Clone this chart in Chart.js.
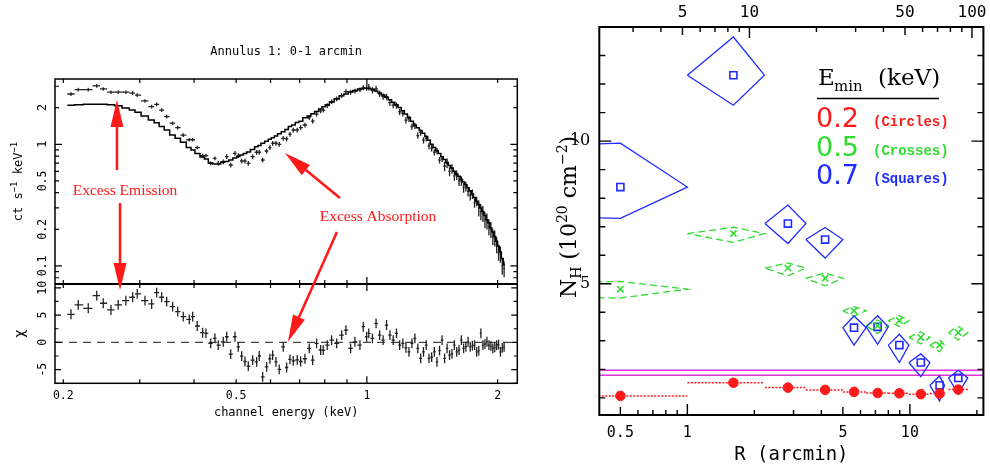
<!DOCTYPE html>
<html>
<head>
<meta charset="utf-8">
<script src="https://cdn.jsdelivr.net/npm/chart.js@4.4.1/dist/chart.umd.min.js"></script>
<style>
  html, body { margin: 0; padding: 0; background: #fff; }
  body { width: 990px; height: 466px; position: relative; overflow: hidden; }
  #specBox { position: absolute; left: 0; top: 0; width: 540px; height: 466px; }
  #nhBox { position: absolute; left: 540px; top: 0; width: 450px; height: 466px; }
</style>
</head>
<body>
<div id="specBox"><canvas id="specChart"></canvas></div>
<div id="nhBox"><canvas id="nhChart"></canvas></div>
<script>
// Left: spectrum of annulus 1 -----------------------------------------

// channel energy of each bin (keV)
const specE = [
  0.2083, 0.2165, 0.2283, 0.2388, 0.2472, 0.2575, 0.2676, 0.2787, 0.2889, 0.2960,
  0.3084, 0.3195, 0.3281, 0.3369, 0.3460, 0.3571, 0.3668, 0.3778, 0.3901, 0.3971,
  0.4069, 0.4187, 0.4261,
  0.4369, 0.4469, 0.4548, 0.4670, 0.4756, 0.4858, 0.4970, 0.5057, 0.5149, 0.5240,
  0.5333, 0.5458, 0.5575, 0.5652, 0.5755, 0.5878, 0.5982, 0.6068, 0.6175, 0.6284,
  0.6419, 0.6536, 0.6651, 0.6769, 0.6914, 0.7039, 0.7201, 0.7367, 0.7501, 0.7661,
  0.7826, 0.7935, 0.8105, 0.8297, 0.8520, 0.8749, 0.8950, 0.9175, 0.9387, 0.9639,
  0.9809, 0.9987,
  1.01, 1.03, 1.05, 1.07, 1.09, 1.11, 1.13, 1.15, 1.17, 1.19,
  1.21, 1.23, 1.25, 1.27, 1.29, 1.31, 1.33, 1.35, 1.37, 1.39,
  1.41, 1.43, 1.45, 1.47, 1.49, 1.51, 1.53, 1.55, 1.57, 1.59,
  1.61, 1.63, 1.65, 1.67, 1.69, 1.71, 1.73, 1.75, 1.77, 1.79,
  1.81, 1.83, 1.85, 1.87, 1.89, 1.91, 1.93, 1.95, 1.97, 1.99,
  2.01, 2.03, 2.05, 2.07
];

// observed count rate (ct s-1 keV-1)
const specData = [
  2.59, 2.81, 2.81, 3.02, 2.85, 2.68, 2.68, 2.68, 2.63, 2.54,
  2.27, 2.04, 2.13, 1.91, 1.69, 1.49, 1.37, 1.19, 1.09, 1.09,
  0.938, 0.806, 0.806,
  0.698, 0.767, 0.698, 0.719, 0.791, 0.676, 0.843, 0.806, 0.729, 0.729,
  0.698, 0.791, 0.860, 0.860, 0.743, 0.881, 0.938, 1.02, 1.02, 1.00,
  1.12, 1.11, 1.21, 1.31, 1.31, 1.37, 1.44, 1.66, 1.55, 1.77,
  1.88, 1.91, 2.08, 2.24, 2.36, 2.51, 2.71, 2.68, 2.74, 2.80,
  2.92, 2.89,
  2.95, 2.78, 2.85, 2.60, 2.47, 2.45, 2.20, 2.10, 2.08, 1.85,
  1.80, 1.58, 1.62, 1.40, 1.42, 1.18, 1.25, 1.08, 1.12, 0.97,
  0.93, 0.86, 0.88, 0.74, 0.76, 0.66, 0.70, 0.60, 0.63, 0.55,
  0.56, 0.50, 0.50, 0.44, 0.45, 0.41, 0.38, 0.39, 0.33, 0.34,
  0.30, 0.28, 0.27, 0.24, 0.235, 0.21, 0.20, 0.175, 0.17, 0.15,
  0.13, 0.125, 0.10, 0.095
];

// folded model (ct s-1 keV-1)
const specModel = [
  2.09, 2.11, 2.13, 2.13, 2.13, 2.11, 2.07, 1.99, 1.91, 1.83,
  1.71, 1.58, 1.50, 1.40, 1.31, 1.19, 1.12, 1.04, 0.941, 0.898,
  0.840, 0.786, 0.757,
  0.702, 0.689, 0.689, 0.711, 0.722, 0.743, 0.772, 0.794, 0.817, 0.840,
  0.864, 0.906, 0.956, 0.978, 1.02, 1.06, 1.10, 1.13, 1.17, 1.22,
  1.27, 1.32, 1.40, 1.44, 1.51, 1.55, 1.65, 1.71, 1.78, 1.86,
  1.95, 2.03, 2.11, 2.23, 2.36, 2.50, 2.59, 2.69, 2.77, 2.85,
  2.88, 2.89,
  2.88, 2.83, 2.74, 2.64, 2.54, 2.43, 2.32, 2.22, 2.11, 2.01,
  1.89, 1.77, 1.66, 1.55, 1.44, 1.37, 1.30, 1.23, 1.16, 1.08,
  1.00, 0.94, 0.89, 0.84, 0.79, 0.75, 0.71, 0.67, 0.64, 0.60,
  0.57, 0.545, 0.515, 0.49, 0.465, 0.44, 0.415, 0.39, 0.365, 0.34,
  0.32, 0.30, 0.28, 0.26, 0.24, 0.225, 0.205, 0.19, 0.175, 0.16,
  0.145, 0.13, 0.115, 0.103
];

// residuals (chi)
const specChi = [
  5.15, 6.86, 6.25, 8.57, 7.17, 5.94, 6.86, 7.65, 8.27, 8.88,
  7.65, 7.04, 9.12, 8.27, 7.46, 6.54, 5.63, 4.71, 4.23, 4.71,
  3.0, 1.77, 1.65,
  -0.18, 0.74, -0.5, 0.11, 1.03, -2.15, 1.03, -0.81, -2.52, -3.5,
  -4.36, -3.25, -3.57, -2.5, -6.32, -4.49, -3.0, -2.33, -3.57, -4.96,
  -0.81, -4.6, -3.1, -3.4, -3.2, -3.5, -3.0, -1.1, -3.25, -0.18,
  -1.4, -1.42, -0.5, 0.42, -0.18, 1.34, 2.26, -1.1, 0.11, -0.5,
  2.87, 1.03,
  1.65, 0.74, 3.49, 1.34, 0.42, 3.18, 1.34, 0.42, 1.65, -0.5,
  -0.18, -1.0, -1.73, -0.18, 0.74, -1.1, -2.94, -1.73, -0.5, -2.94,
  -2.7, -1.73, -3.57, -1.5, 0.42, -2.94, -1.1, -2.33, -2.1, -0.5,
  -1.73, -1.4, 0.42, -1.1, -0.8, 0.11, -0.81, -0.6, -0.5, -1.73,
  -1.5, 1.65, -0.5, -0.3, 0.11, -0.5, -0.7, -1.1, -0.9, -0.5,
  -0.4, -1.73, -1.0, -0.81
];

const specTicksX = [0.2, 0.5, 1, 2];
const specMinorX = [0.2, 0.3, 0.4, 0.5, 0.6, 0.7, 0.8, 0.9, 1, 2];
const specTicksY = [0.1, 0.2, 0.5, 1, 2];
const specMinorY = [0.08, 0.09, 0.1, 0.2, 0.3, 0.4, 0.5, 0.6, 0.7, 0.8, 0.9, 1, 2, 3];
const chiTicks = [-5, 0, 5, 10];
const chiMinor = [-7.5, -5, -2.5, 0, 2.5, 5, 7.5, 10];

// annotations in data units: [energy, value, axis]
const noteEmission = [0.2774, 0.413];
const noteAbsorption = [1.061, 0.254];
const arrows = [
  [[0.2658, 0.615, 'y'], [0.2658, 2.31, 'y']],
  [[0.2702, 0.329, 'y'], [0.2702, 9.6, 'y2']],
  [[0.867, 0.362, 'y'], [0.6477, 0.848, 'y']],
  [[0.8533, 0.190, 'y'], [0.658, 0.1, 'y2']]
];

// Right: absorbing column vs radius ------------------------------------

const rMid = [0.5, 1.61, 2.83, 4.16, 5.61, 7.16, 8.97, 11.2, 13.6, 16.5];
const rLo = [0, 1.0, 2.23, 3.41, 5.0, 6.36, 8.0, 9.9, 12.3, 14.9];
const rHi = [1.0, 2.22, 3.41, 5.0, 6.36, 8.0, 9.9, 12.3, 14.3, 18.2];

// Emin = 0.2 keV (circles)
const nh02 = [1.07, 1.53, 1.36, 1.28, 1.21, 1.17, 1.16, 1.13, 1.15, 1.29];
// Emin = 0.5 keV (crosses)
const nh05 = [4.81, 6.76, 5.55, 5.19, 4.05, 3.53, 3.71, 3.12, 2.85, 3.29];
const nh05Lo = [4.50, 6.45, 5.28, 4.93, 3.87, 3.26, 3.50, 2.89, 2.62, 3.03];
const nh05Hi = [5.08, 6.98, 5.73, 5.38, 4.20, 3.73, 3.88, 3.32, 3.03, 3.50];
// Emin = 0.7 keV (squares)
const nh07 = [8.39, 12.31, 7.11, 6.55, 3.46, 3.49, 2.85, 2.24, 1.44, 1.70];
const nh07Lo = [7.29, 11.26, 6.41, 5.90, 2.85, 2.88, 2.24, 1.74, 0.89, 1.15];
const nh07Hi = [9.93, 13.65, 7.76, 6.97, 3.87, 3.88, 3.23, 2.54, 1.77, 1.97];
// Galactic column range
const nhGal = [1.79, 1.97];

const rTicks = [0.5, 1, 5, 10];
const rMinor = [0.5, 0.6, 0.7, 0.8, 0.9, 1, 2, 3, 4, 5, 6, 7, 8, 9, 10, 20];
const kpcTicks = [5, 10, 50, 100];
const kpcMinor = [3, 4, 5, 6, 7, 8, 9, 10, 20, 30, 40, 50, 60, 70, 80, 90, 100];
const nhTicks = [5, 10];
const nhMinor = [1, 2, 3, 4, 5, 6, 7, 8, 9, 10, 11, 12, 13];
const kpcPerArcmin = 5.26;

// axis ranges
const specXMin = 0.1914, specXMax = 2.22;
const specYMin = 0.0711, specYMax = 3.44;
const chiMin = -7.5, chiMax = 10.7;
const rMin = 0.402, rMax = 21.4;
const nhMin = 0.4, nhMax = 14;

const RED = '#ff1a1a', GREEN = '#2edb2e', BLUE = '#1f2bff', MAGENTA = '#e033e0';

Chart.defaults.font.family = 'DejaVu Sans Mono';
Chart.defaults.color = '#000';

// helpers ---------------------------------------------------------------

function binEdges(e) {
  const lo = [], hi = [];
  for (let i = 0; i < e.length; i++) {
    const prev = i > 0 ? e[i - 1] : e[i] * e[i] / e[i + 1];
    const next = i < e.length - 1 ? e[i + 1] : e[i] * e[i] / e[i - 1];
    lo.push(Math.sqrt(prev * e[i]));
    hi.push(Math.sqrt(next * e[i]));
  }
  return { lo, hi };
}

// size of the error arms on the count spectrum
function relErr(e) {
  if (e < 0.45) return 0.035;
  if (e < 1) return 0.045;
  if (e < 1.5) return 0.06;
  if (e < 1.8) return 0.09;
  return 0.15;
}

function crosses(xs, ys, lo, hi, ylo, yhi) {
  const pts = [];
  for (let i = 0; i < xs.length; i++) {
    pts.push({ x: lo[i], y: ys[i] }, { x: hi[i], y: ys[i] }, { x: hi[i], y: null });
    pts.push({ x: xs[i], y: ylo[i] }, { x: xs[i], y: yhi[i] }, { x: xs[i], y: null });
  }
  return pts;
}

function diamonds(xs, lo, hi, ys, ylo, yhi) {
  const pts = [];
  for (let i = 0; i < xs.length; i++) {
    const l = Math.max(lo[i], 1e-6);
    pts.push({ x: l, y: ys[i] }, { x: xs[i], y: yhi[i] }, { x: hi[i], y: ys[i] },
             { x: xs[i], y: ylo[i] }, { x: l, y: ys[i] }, { x: xs[i], y: null });
  }
  return pts;
}

function zeroPad(s) {
  s.paddingLeft = 0; s.paddingRight = 0; s.paddingTop = 0; s.paddingBottom = 0;
}

function drawRich(ctx, parts, x, y, rot) {
  ctx.save();
  ctx.translate(x, y);
  if (rot) ctx.rotate(rot);
  let w = 0;
  parts.forEach(p => { ctx.font = p[1]; w += ctx.measureText(p[0]).width; });
  let cx = -w / 2;
  ctx.textAlign = 'left';
  ctx.textBaseline = 'alphabetic';
  parts.forEach(p => {
    ctx.font = p[1];
    ctx.fillText(p[0], cx, p[2]);
    cx += ctx.measureText(p[0]).width;
  });
  ctx.restore();
}

function arrow(ctx, x0, y0, x1, y1, headLen, headW) {
  const a = Math.atan2(y1 - y0, x1 - x0);
  const bx = x1 - headLen * Math.cos(a), by = y1 - headLen * Math.sin(a);
  ctx.beginPath();
  ctx.moveTo(x0, y0);
  ctx.lineTo(bx, by);
  ctx.stroke();
  ctx.beginPath();
  ctx.moveTo(x1, y1);
  ctx.lineTo(bx + headW / 2 * Math.sin(a), by - headW / 2 * Math.cos(a));
  ctx.lineTo(bx - headW / 2 * Math.sin(a), by + headW / 2 * Math.cos(a));
  ctx.closePath();
  ctx.fill();
}

// left chart --------------------------------------------------------------

const edges = binEdges(specE);
const specCross = crosses(specE, specData, edges.lo, edges.hi,
  specData.map((v, i) => v * (1 - relErr(specE[i]))),
  specData.map((v, i) => v * (1 + relErr(specE[i]))));
const chiCross = crosses(specE, specChi, edges.lo, edges.hi,
  specChi.map(v => v - 0.9), specChi.map(v => v + 0.9));
const modelPts = [{ x: edges.lo[0], y: specModel[0] }]
  .concat(specE.map((e, i) => ({ x: e, y: specModel[i] })))
  .concat([{ x: edges.hi[specE.length - 1], y: specModel[specModel.length - 1] }]);

const specFrame = {
  id: 'specFrame',
  afterDraw(chart) {
    const ctx = chart.ctx;
    const x = chart.scales.x, y = chart.scales.y, y2 = chart.scales.y2;
    const L = x.left, R = x.right, T = y.top, M = y.bottom, B = y2.bottom;
    ctx.save();
    ctx.strokeStyle = '#000';
    ctx.lineWidth = 1.5;
    ctx.strokeRect(L, T, R - L, B - T);
    ctx.lineWidth = 2;
    ctx.beginPath(); ctx.moveTo(L, M); ctx.lineTo(R, M); ctx.stroke();

    ctx.lineWidth = 1.2;
    ctx.beginPath();
    specMinorX.forEach(v => {
      const px = x.getPixelForValue(v);
      const len = v === 1 ? 7 : 4;
      [[T, 1], [M, -1], [M, 1], [B, -1]].forEach(([yy, d]) => {
        ctx.moveTo(px, yy); ctx.lineTo(px, yy + d * len);
      });
    });
    specMinorY.forEach(v => {
      const py = y.getPixelForValue(v);
      if (py < T || py > M) return;
      const len = (v === 0.1 || v === 1) ? 7 : 4;
      ctx.moveTo(L, py); ctx.lineTo(L + len, py);
      ctx.moveTo(R, py); ctx.lineTo(R - len, py);
    });
    chiMinor.forEach(v => {
      const py = y2.getPixelForValue(v);
      const len = v % 5 === 0 ? 6 : 3.5;
      ctx.moveTo(L, py); ctx.lineTo(L + len, py);
      ctx.moveTo(R, py); ctx.lineTo(R - len, py);
    });
    ctx.stroke();

    // axis titles
    ctx.fillStyle = '#000';
    drawRich(ctx, [
      ['ct s', '12px DejaVu Sans Mono', 0],
      ['\u22121', '9px DejaVu Sans Mono', -5],
      [' keV', '12px DejaVu Sans Mono', 0],
      ['\u22121', '9px DejaVu Sans Mono', -5]
    ], 22, (T + M) / 2, -Math.PI / 2);
    drawRich(ctx, [['\u03c7', '14px DejaVu Sans', 0]], 24, (M + B) / 2, -Math.PI / 2);

    // annotations
    ctx.fillStyle = RED;
    ctx.strokeStyle = RED;
    ctx.font = '15.5px Liberation Serif';
    ctx.textAlign = 'center';
    ctx.textBaseline = 'middle';
    ctx.fillText('Excess Emission', x.getPixelForValue(noteEmission[0]), y.getPixelForValue(noteEmission[1]));
    ctx.fillText('Excess Absorption', x.getPixelForValue(noteAbsorption[0]), y.getPixelForValue(noteAbsorption[1]));
    ctx.lineWidth = 2.6;
    arrows.forEach(([a, b]) => {
      arrow(ctx,
        x.getPixelForValue(a[0]), chart.scales[a[2]].getPixelForValue(a[1]),
        x.getPixelForValue(b[0]), chart.scales[b[2]].getPixelForValue(b[1]),
        27, 13);
    });
    ctx.restore();
  }
};

new Chart(document.getElementById('specChart'), {
  type: 'line',
  data: {
    datasets: [
      { data: modelPts, stepped: 'middle', borderColor: '#000', borderWidth: 1.5,
        pointRadius: 0, yAxisID: 'y' },
      { data: specCross, borderColor: '#222', borderWidth: 1.3, pointRadius: 0,
        spanGaps: false, yAxisID: 'y' },
      { data: chiCross, borderColor: '#222', borderWidth: 1.3, pointRadius: 0,
        spanGaps: false, yAxisID: 'y2' },
      { data: [{ x: specXMin, y: 0 }, { x: specXMax, y: 0 }], borderColor: '#444',
        borderDash: [8, 6], borderWidth: 1.4, pointRadius: 0, yAxisID: 'y2' }
    ]
  },
  options: {
    responsive: true,
    maintainAspectRatio: false,
    animation: false,
    events: [],
    layout: { padding: { left: 0, right: 22.7, top: 0, bottom: 46.1 } },
    plugins: {
      legend: { display: false },
      tooltip: { enabled: false },
      title: {
        display: true, text: 'Annulus 1: 0-1 arcmin', fullSize: false, color: '#000',
        font: { family: 'DejaVu Sans Mono', size: 12, weight: 'normal' },
        padding: { top: 45, bottom: 19.6 }
      }
    },
    scales: {
      x: {
        type: 'logarithmic', min: specXMin, max: specXMax,
        grid: { display: false, drawTicks: false }, border: { display: false },
        afterBuildTicks: s => { s.ticks = specTicksX.map(v => ({ value: v })); },
        afterFit: s => { s.height = 36.6; zeroPad(s); },
        ticks: { padding: 6, autoSkip: false, maxRotation: 0, font: { size: 11.5 }, callback: v => String(v) },
        title: { display: true, text: 'channel energy (keV)', font: { size: 12 }, padding: 0 }
      },
      y: {
        type: 'logarithmic', min: specYMin, max: specYMax, position: 'left',
        stack: 'spec', stackWeight: 205, weight: 2,
        grid: { display: false, drawTicks: false }, border: { display: false },
        afterBuildTicks: s => { s.ticks = specTicksY.map(v => ({ value: v })); },
        afterFit: s => { s.width = 55; zeroPad(s); },
        ticks: { minRotation: 90, maxRotation: 90, crossAlign: 'center', padding: 2,
                 autoSkip: false, font: { size: 11.5 }, callback: v => String(v) }
      },
      y2: {
        type: 'linear', min: chiMin, max: chiMax, position: 'left',
        stack: 'spec', stackWeight: 99.3, weight: 1,
        grid: { display: false, drawTicks: false }, border: { display: false },
        afterBuildTicks: s => { s.ticks = chiTicks.map(v => ({ value: v })); },
        afterFit: s => { s.width = 55; zeroPad(s); },
        ticks: { minRotation: 90, maxRotation: 90, crossAlign: 'center', padding: 5,
                 autoSkip: false, font: { size: 11.5 }, callback: v => String(v) }
      }
    }
  },
  plugins: [specFrame]
});

// right chart -------------------------------------------------------------

const redBars = [];
rMid.forEach((r, i) => {
  redBars.push({ x: Math.max(rLo[i], 1e-6), y: nh02[i] }, { x: rHi[i], y: nh02[i] }, { x: rHi[i], y: null });
});

const nhFrame = {
  id: 'nhFrame',
  afterDraw(chart) {
    const ctx = chart.ctx, a = chart.chartArea;
    const x = chart.scales.x, x2 = chart.scales.x2, y = chart.scales.y;
    ctx.save();
    ctx.strokeStyle = '#000';
    ctx.lineWidth = 2;
    ctx.strokeRect(a.left, a.top, a.right - a.left, a.bottom - a.top);
    ctx.lineWidth = 1.4;
    ctx.beginPath();
    rMinor.forEach(v => {
      const px = x.getPixelForValue(v);
      const len = (v === 1 || v === 10) ? 11 : (rTicks.includes(v) ? 8 : 5);
      ctx.moveTo(px, a.bottom); ctx.lineTo(px, a.bottom - len);
    });
    kpcMinor.forEach(v => {
      const px = x2.getPixelForValue(v);
      const len = (v === 10 || v === 100) ? 11 : (kpcTicks.includes(v) ? 8 : 5);
      ctx.moveTo(px, a.top); ctx.lineTo(px, a.top + len);
    });
    nhMinor.forEach(v => {
      const py = y.getPixelForValue(v);
      const len = nhTicks.includes(v) ? 12 : 6;
      ctx.moveTo(a.left, py); ctx.lineTo(a.left + len, py);
      ctx.moveTo(a.right, py); ctx.lineTo(a.right - len, py);
    });
    ctx.stroke();

    // y title
    ctx.fillStyle = '#000';
    drawRich(ctx, [
      ['N', '22px DejaVu Serif', 0],
      ['H', '14px DejaVu Serif', 5],
      [' (10', '22px DejaVu Serif', 0],
      ['20', '14px DejaVu Serif', -9],
      [' cm', '22px DejaVu Serif', 0],
      ['\u22122', '14px DejaVu Serif', -9],
      [')', '22px DejaVu Serif', 0]
    ], 36, 217, -Math.PI / 2);

    // legend
    ctx.textAlign = 'left';
    ctx.textBaseline = 'alphabetic';
    ctx.font = '23px DejaVu Serif';
    ctx.fillText('E', 278, 85);
    ctx.font = '15px DejaVu Serif';
    ctx.fillText('min', 294, 91);
    ctx.font = '23px DejaVu Serif';
    ctx.fillText('(keV)', 338, 85);
    ctx.lineWidth = 1.5;
    ctx.beginPath(); ctx.moveTo(277, 98.5); ctx.lineTo(399, 98.5); ctx.stroke();
    [['0.2', '(Circles)', RED, 127], ['0.5', '(Crosses)', GREEN, 155.5], ['0.7', '(Squares)', BLUE, 183.5]]
      .forEach(([v, t, c, yy]) => {
        ctx.fillStyle = c;
        ctx.font = '27px DejaVu Sans';
        ctx.fillText(v, 276, yy);
        ctx.font = 'bold 14px Liberation Mono';
        ctx.fillText(t, 333, yy - 1);
      });
    ctx.restore();
  }
};

new Chart(document.getElementById('nhChart'), {
  type: 'line',
  data: {
    datasets: [
      { data: rMid.map((r, i) => ({ x: r, y: nh02[i] })), showLine: false,
        pointStyle: 'circle', pointRadius: 4.8, pointBackgroundColor: RED, pointBorderColor: RED },
      { data: rMid.map((r, i) => ({ x: r, y: nh05[i] })), showLine: false,
        pointStyle: 'crossRot', pointRadius: 4.5, pointBorderColor: GREEN, pointBorderWidth: 1.6 },
      { data: rMid.map((r, i) => ({ x: r, y: nh07[i] })), showLine: false,
        pointStyle: 'rect', pointRadius: 5, pointBackgroundColor: 'rgba(0,0,0,0)',
        pointBorderColor: BLUE, pointBorderWidth: 1.6 },
      { data: diamonds(rMid, rLo, rHi, nh07, nh07Lo, nh07Hi), borderColor: BLUE,
        borderWidth: 1.3, pointRadius: 0, spanGaps: false },
      { data: diamonds(rMid, rLo, rHi, nh05, nh05Lo, nh05Hi), borderColor: GREEN,
        borderWidth: 1.3, borderDash: [7, 4], pointRadius: 0, spanGaps: false },
      { data: redBars, borderColor: RED, borderWidth: 1.5, borderDash: [2, 1.5],
        pointRadius: 0, spanGaps: false },
      { data: [{ x: rMin, y: nhGal[0] }, { x: rMax, y: nhGal[0] }], borderColor: MAGENTA,
        borderWidth: 1.5, pointRadius: 0 },
      { data: [{ x: rMin, y: nhGal[1] }, { x: rMax, y: nhGal[1] }], borderColor: MAGENTA,
        borderWidth: 1.5, pointRadius: 0 }
    ]
  },
  options: {
    responsive: true,
    maintainAspectRatio: false,
    animation: false,
    events: [],
    layout: { padding: { left: 0, right: 2.3, top: 0, bottom: 0 } },
    plugins: { legend: { display: false }, tooltip: { enabled: false } },
    scales: {
      x: {
        type: 'logarithmic', position: 'bottom', min: rMin, max: rMax,
        grid: { display: false, drawTicks: false }, border: { display: false },
        afterBuildTicks: s => { s.ticks = rTicks.map(v => ({ value: v })); },
        afterFit: s => { s.height = 51; zeroPad(s); },
        ticks: { padding: 9, autoSkip: false, maxRotation: 0, font: { size: 15 }, callback: v => String(v) },
        title: { display: true, text: 'R (arcmin)', font: { size: 19 }, padding: 0 }
      },
      x2: {
        type: 'logarithmic', position: 'top', min: rMin * kpcPerArcmin, max: rMax * kpcPerArcmin,
        grid: { display: false, drawTicks: false }, border: { display: false },
        afterBuildTicks: s => { s.ticks = kpcTicks.map(v => ({ value: v })); },
        afterFit: s => { s.height = 27; zeroPad(s); },
        ticks: { padding: 5, autoSkip: false, maxRotation: 0, font: { size: 16 }, callback: v => String(v) }
      },
      y: {
        type: 'linear', min: nhMin, max: nhMax,
        grid: { display: false, drawTicks: false }, border: { display: false },
        afterBuildTicks: s => { s.ticks = nhTicks.map(v => ({ value: v })); },
        afterFit: s => { s.width = 59.3; zeroPad(s); },
        ticks: { padding: 9, autoSkip: false, font: { family: 'DejaVu Serif', size: 16 }, callback: v => String(v) }
      }
    }
  },
  plugins: [nhFrame]
});
</script>
</body>
</html>
